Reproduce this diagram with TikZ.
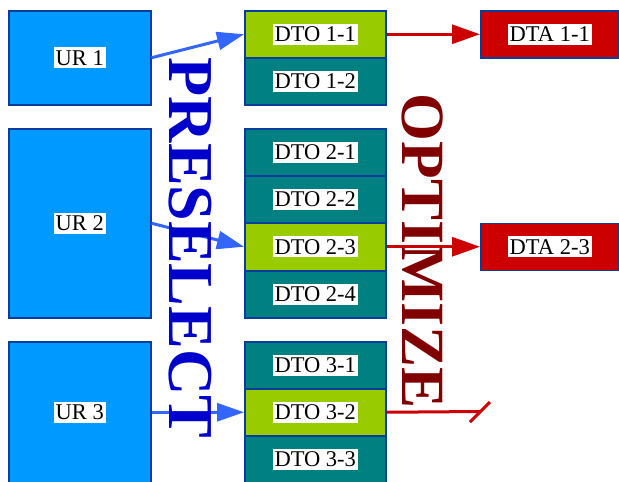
\documentclass[tikz,border=0pt]{standalone}
\usepackage{fontspec}
\setmainfont{Liberation Serif}
\usetikzlibrary{arrows.meta}
\definecolor{urblue}{HTML}{0099FF}
\definecolor{dtoteal}{HTML}{008080}
\definecolor{dtosel}{HTML}{99CC00}
\definecolor{dtared}{HTML}{CC0000}
\definecolor{edgeblue}{HTML}{0A3C9E}
\definecolor{arrblue}{HTML}{3366FF}
\definecolor{prescol}{HTML}{0000CC}
\definecolor{optcol}{HTML}{800000}
\tikzset{
  x=1pt, y=-1pt,
  boxbase/.style={draw=edgeblue, line width=1.5pt, anchor=north west, inner sep=0pt,
    label={[lbl]center:#1}},
  lbl/.style={fill=white, text=black, inner xsep=2pt, inner ysep=3pt,
    font=\fontsize{22.5}{26}\selectfont},
  urbox/.style={boxbase=#1, fill=urblue, minimum width=142pt},
  dtobox/.style={boxbase=#1, fill=dtoteal, minimum width=141pt, minimum height=47pt},
  dtoselbox/.style={boxbase=#1, fill=dtosel, minimum width=141pt, minimum height=47pt},
  dtabox/.style={boxbase=#1, fill=dtared, minimum width=138pt, minimum height=47pt},
  bluearrow/.style={draw=arrblue, line width=3pt, -{Triangle[length=27pt,width=18pt]}},
  redarrow/.style={draw=dtared, line width=3pt, -{Triangle[length=28pt,width=19pt]}},
  redline/.style={draw=dtared, line width=3pt},
  bigword/.style={rotate=-90, inner sep=0pt}
}
\begin{document}
\begin{tikzpicture}
\useasboundingbox (0,0) rectangle (619,482);
% UR boxes
\node[urbox={UR 1}, minimum height=94pt] (ur1) at (8,10) {};
\node[urbox={UR 2}, minimum height=189pt] (ur2) at (8,128) {};
\node[urbox={UR 3}, minimum height=141pt] (ur3) at (8,341) {};
% DTO boxes
\node[dtoselbox={DTO 1-1}] (dto11) at (244,10) {};
\node[dtobox={DTO 1-2}] (dto12) at (244,57) {};
\node[dtobox={DTO 2-1}] (dto21) at (244,128) {};
\node[dtobox={DTO 2-2}] (dto22) at (244,175) {};
\node[dtoselbox={DTO 2-3}] (dto23) at (244,222.5) {};
\node[dtobox={DTO 2-4}] (dto24) at (244,270) {};
\node[dtobox={DTO 3-1}] (dto31) at (244,341) {};
\node[dtoselbox={DTO 3-2}] (dto32) at (244,388) {};
\node[dtobox={DTO 3-3}] (dto33) at (244,435) {};
% DTA boxes
\node[dtabox={DTA 1-1}] (dta11) at (480,10) {};
\node[dtabox={DTA 2-3}] (dta23) at (480,222.5) {};
% arrows
\draw[bluearrow] (ur1.east) -- (dto11.west);
\draw[bluearrow] (ur2.east) -- (dto23.west);
\draw[bluearrow] (ur3.east) -- (dto32.west);
% words
\node[bigword, text=prescol, font=\bfseries\fontsize{64}{64}\selectfont] (pre) at (190,248) {PRESELECT};
\node[bigword, text=optcol, font=\bfseries\fontsize{61.5}{62}\selectfont] (opt) at (423,251) {OPTIMIZE};
% red arrows
\draw[redarrow] (dto11.east) -- (dta11.west);
\draw[redarrow] (dto23.east) -- (dta23.west);
\coordinate (stop) at (480,411.5);
\coordinate (slashA) at (470,422);
\coordinate (slashB) at (490,402);
\draw[redline] (dto32.east) -- (stop);
\draw[redline] (slashA) -- (slashB);
\end{tikzpicture}
\end{document}
